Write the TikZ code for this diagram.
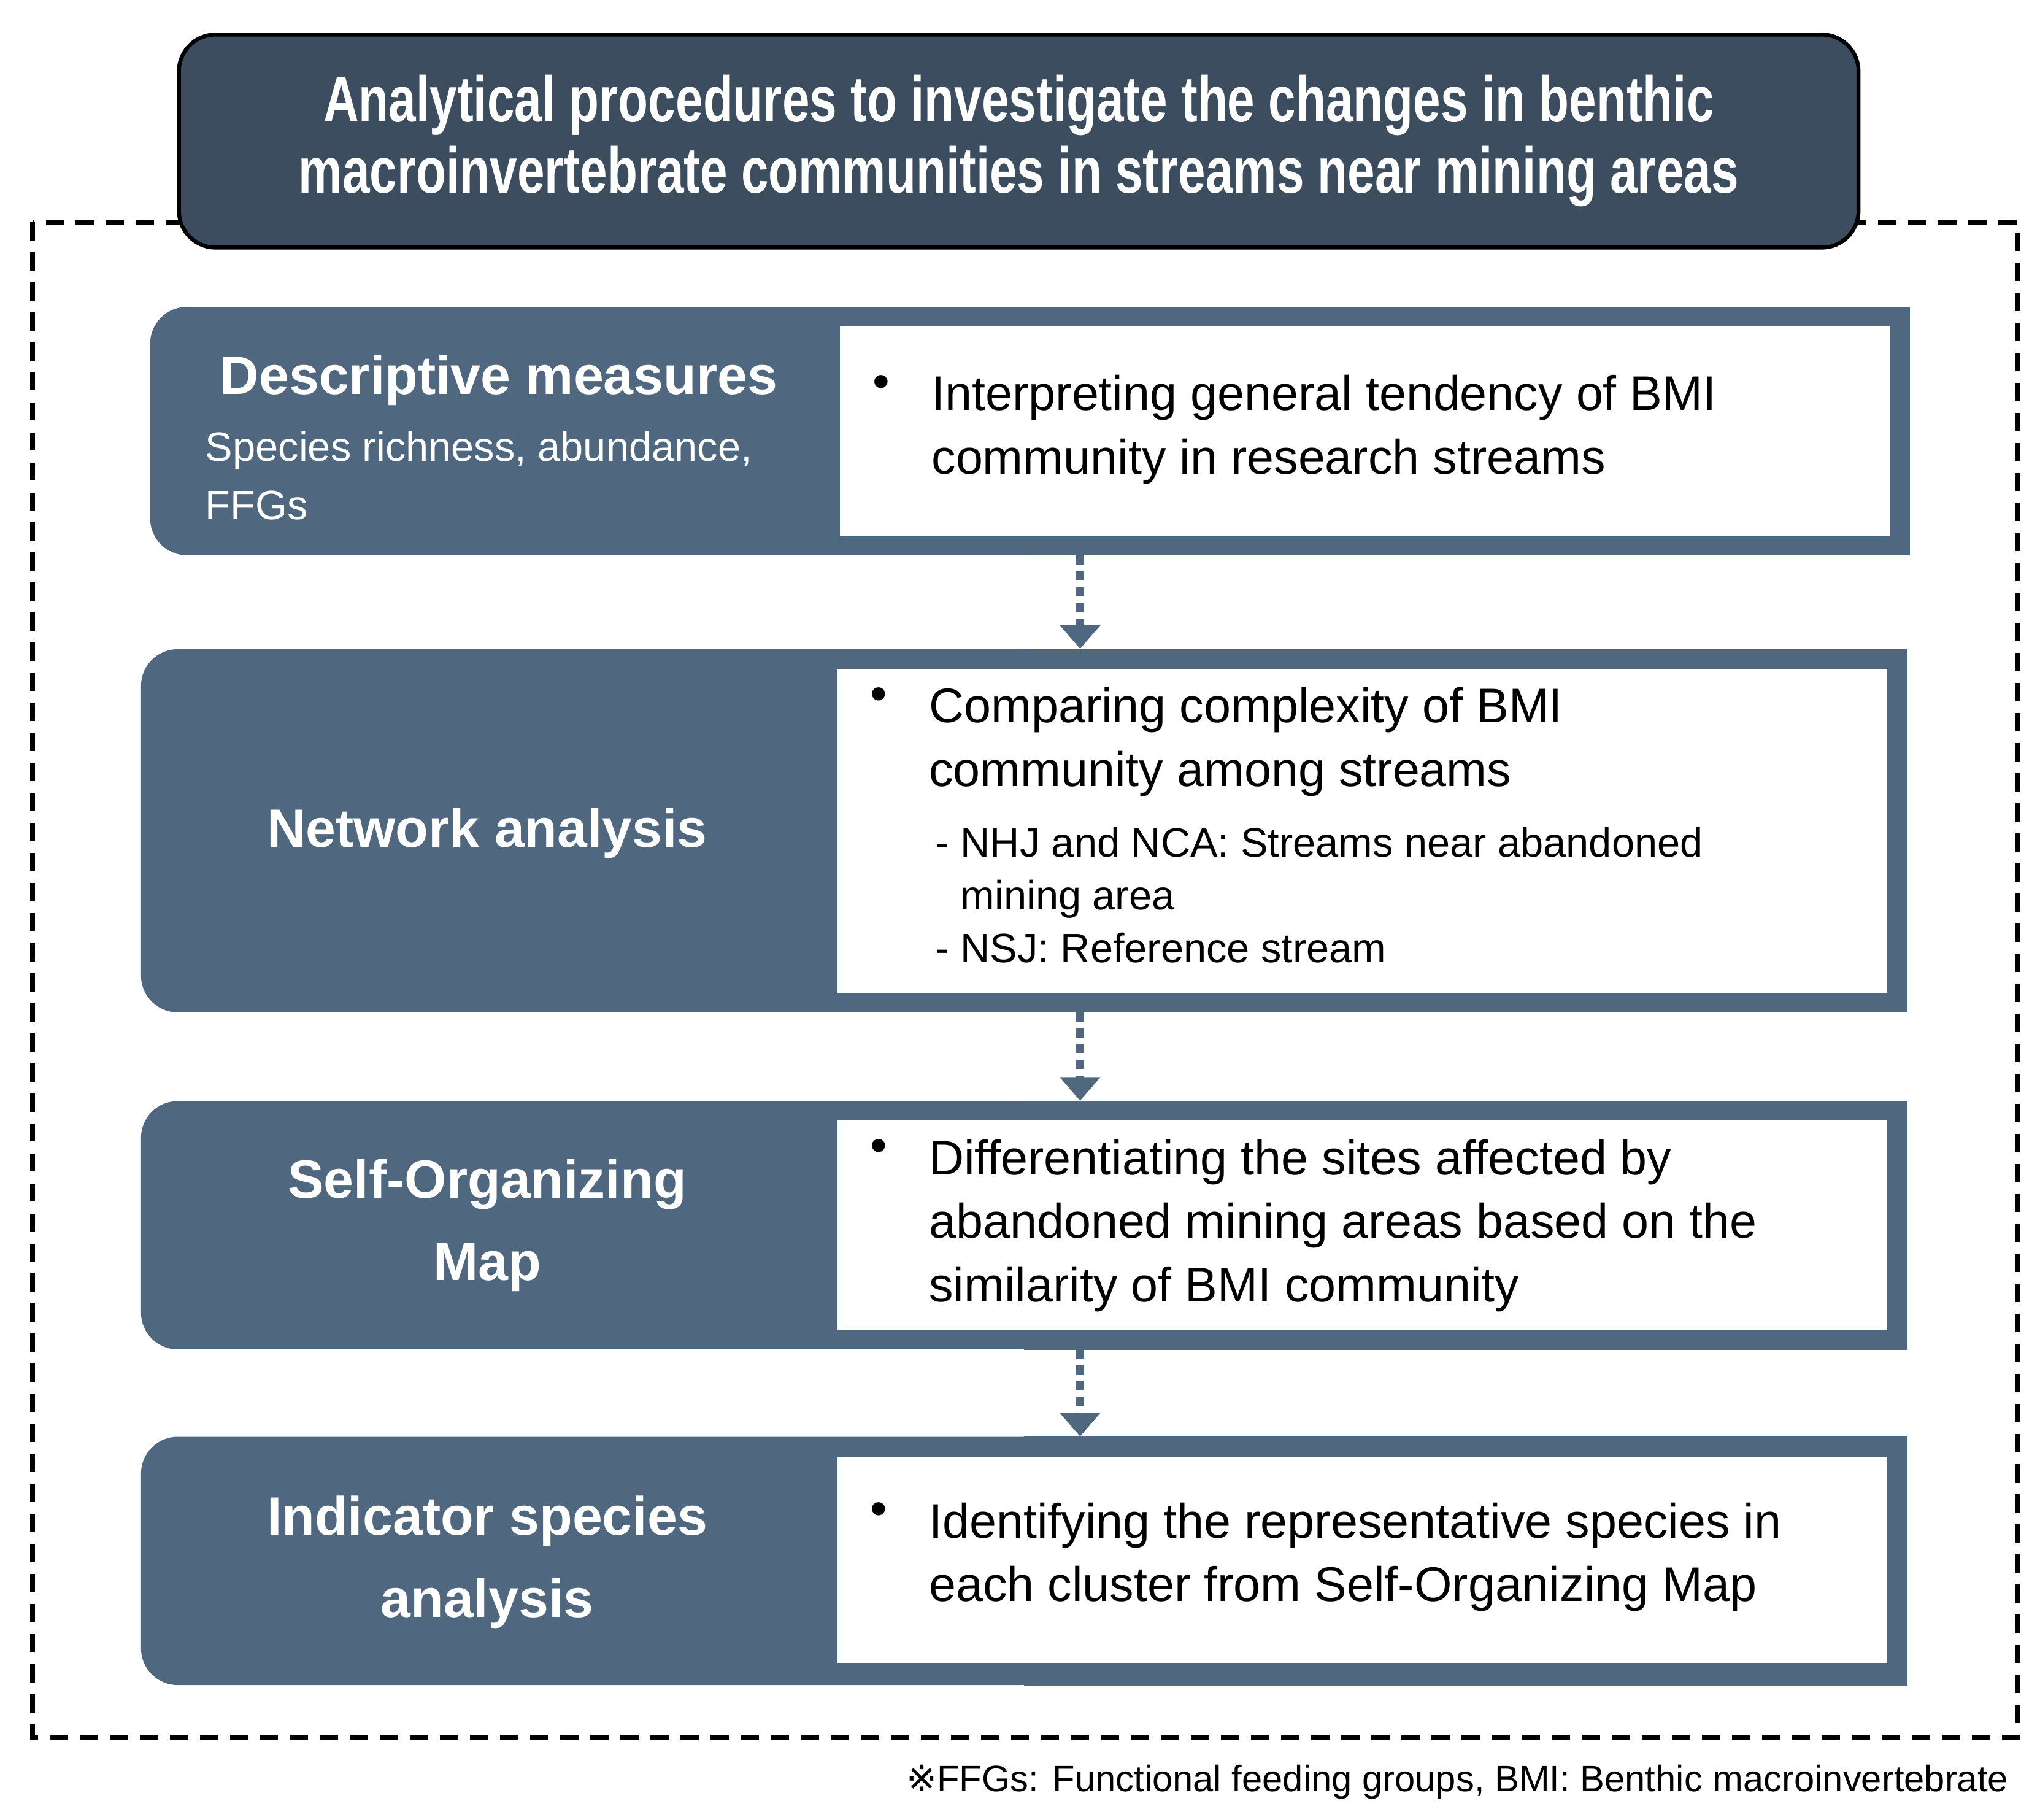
\documentclass[tikz,border=0pt]{standalone}
\usepackage{fontspec}
\setmainfont{Liberation Sans}
\newfontfamily\titlefont[FakeStretch=0.76]{Liberation Sans}
\newfontfamily\symfont{DejaVu Sans}
\usetikzlibrary{arrows.meta, positioning}

\definecolor{titleblue}{HTML}{3B4D5E}
\definecolor{stepblue}{HTML}{4F6880}
\newcommand{\pxu}{0.02129cm}

\tikzset{
  stepbox/.style = {fill=stepblue, rounded corners=28*\pxu, inner sep=0pt},
  infobox/.style = {fill=white, inner sep=0pt},
  head/.style = {text=white, font=\fontsize{25}{31}\selectfont\bfseries, align=center},
  body/.style = {anchor=north west, inner sep=0pt, align=left, font=\fontsize{22.5}{29.5}\selectfont},
  subline/.style = {anchor=north west, inner sep=0pt, align=left, font=\fontsize{19}{24.5}\selectfont},
  flow/.style = {draw=stepblue, line width=6*\pxu, dash pattern=on 7*\pxu off 5*\pxu,
                 -{Triangle[length=18*\pxu, width=30*\pxu, fill=stepblue]}}
}

\begin{document}
\begin{tikzpicture}[x=\pxu, y=-\pxu]

    \useasboundingbox (0,0) rectangle (1562,1393);

    % frame and title
    \draw [line width=4*\pxu, dash pattern=on 14*\pxu off 9*\pxu] (25,170) rectangle (1545,1330);
    \node (title) [fill=titleblue, draw=black, line width=3*\pxu, rounded corners=28*\pxu,
        minimum width=1286*\pxu, minimum height=163*\pxu, text=white, align=center,
        font=\titlefont\fontsize{30}{33}\selectfont\bfseries] at (780,108)
        {Analytical procedures to investigate the changes in benthic\\
         macroinvertebrate communities in streams near mining areas};

    % steps
    \node (s1) [stepbox, minimum width=1347*\pxu, minimum height=190*\pxu] at (788.5,330) {};
    \node (s2) [stepbox, minimum width=1352*\pxu, minimum height=278*\pxu] at (784,636) {};
    \node (s3) [stepbox, minimum width=1352*\pxu, minimum height=190*\pxu] at (784,938) {};
    \node (s4) [stepbox, minimum width=1352*\pxu, minimum height=190*\pxu] at (784,1195) {};
    \foreach \s in {s1,s2,s3,s4}
        \fill [stepblue] (\s.north) rectangle (\s.south east);

    \node (b1) [infobox, minimum width=804*\pxu, minimum height=160*\pxu] at (1045,330) {};
    \node (b2) [infobox, minimum width=804*\pxu, minimum height=248*\pxu] at (1043,636) {};
    \node (b3) [infobox, minimum width=804*\pxu, minimum height=160*\pxu] at (1043,938) {};
    \node (b4) [infobox, minimum width=804*\pxu, minimum height=158*\pxu] at (1043,1194) {};

    % step titles
    \node (h1) [head] at (382,291) {Descriptive measures};
    \node (h1s) [subline, text=white, font=\fontsize{19}{27}\selectfont] at (157,330)
        {Species richness, abundance,\\FFGs};
    \node (h2) [head] at (373,638) {Network analysis};
    \node (h3) [head, font=\fontsize{25}{38}\selectfont\bfseries] at (373,938) {Self-Organizing\\Map};
    \node (h4) [head, font=\fontsize{25}{38}\selectfont\bfseries] at (373,1196) {Indicator species\\analysis};

    % descriptions
    \node (d1) [body] at (713,287) {Interpreting general tendency of BMI\\community in research streams};
    \node [body] at (668,287) {•};
    \node (d2) [body] at (711,526) {Comparing complexity of BMI\\community among streams};
    \node [body] at (666,526) {•};
    \node (d2a) [subline] at (716,633) {- NHJ and NCA: Streams near abandoned\\\phantom{- }mining area\\- NSJ: Reference stream};
    \node (d3) [body] at (711,872) {Differentiating the sites affected by\\abandoned mining areas based on the\\similarity of BMI community};
    \node [body] at (666,872) {•};
    \node (d4) [body] at (711,1150) {Identifying the representative species in\\each cluster from Self-Organizing Map};
    \node [body] at (666,1150) {•};

    % flow
    \coordinate (ax) at (827,0);
    \draw [flow] (s1.south -| ax) -- (s2.north -| ax);
    \draw [flow] (s2.south -| ax) -- (s3.north -| ax);
    \draw [flow] (s3.south -| ax) -- (s4.north -| ax);

    % note
    \node (note) [anchor=east, inner sep=0pt, font=\fontsize{17}{20}\selectfont] at (1538,1364)
        {{\symfont ※}FFGs: Functional feeding groups, BMI: Benthic macroinvertebrate};

\end{tikzpicture}
\end{document}
